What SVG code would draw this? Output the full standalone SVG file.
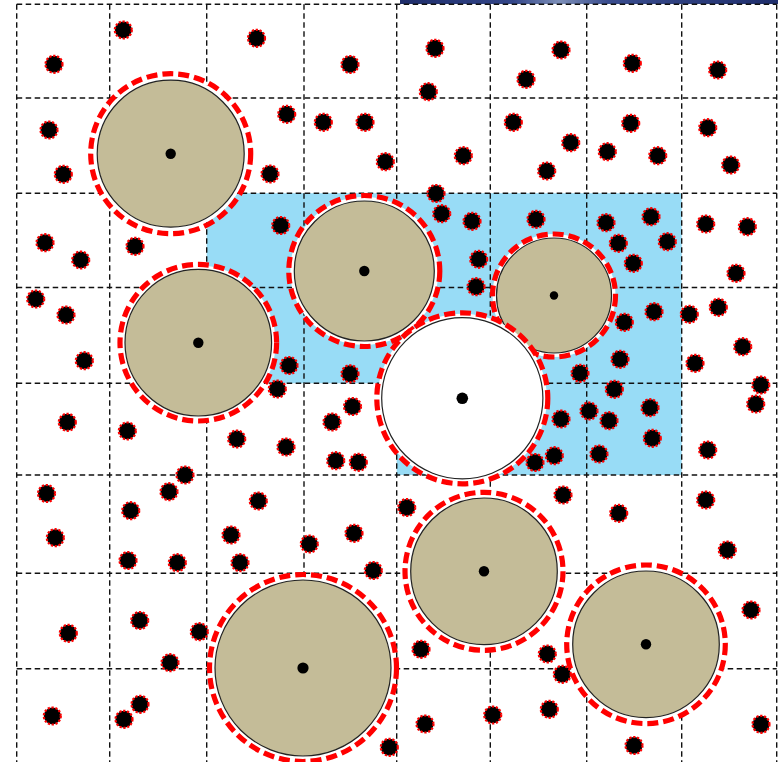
<svg xmlns="http://www.w3.org/2000/svg" width="778" height="762" viewBox="0 0 778 762">
<style>
.g{stroke:#111;stroke-width:1.4;stroke-dasharray:5.5 3.5;fill:none}
.halo{fill:none;stroke:#fff;stroke-width:4}
.tan{fill:#C4BC98;stroke:#222;stroke-width:1.2}
.wht{fill:#fff;stroke:#222;stroke-width:1.2}
.ring{fill:none;stroke:#f00;stroke-width:5.2;stroke-dasharray:11 5}
.ctr{fill:#000}
.dot{fill:#000;stroke:#f00;stroke-width:2.2;stroke-dasharray:2.2 1.7}
</style>
<defs>
<linearGradient id="bar" x1="0" y1="0" x2="1" y2="0">
<stop offset="0" stop-color="#1e2d6a"/>
<stop offset="0.3" stop-color="#34478a"/>
<stop offset="0.42" stop-color="#7d8fb8"/>
<stop offset="0.55" stop-color="#3a4d8e"/>
<stop offset="1" stop-color="#1f2e6c"/>
</linearGradient>
</defs>
<rect width="778" height="762" fill="#fff"/>
<rect x="400" y="0" width="378" height="4" fill="url(#bar)"/>
<path id="region" d="M206.7,193.3 H681.7 V475 H396.7 V383.3 H206.7 Z" fill="#98DCF6"/>
<g id="grid">
<line class="g" x1="16.7" y1="4.3" x2="776.7" y2="4.3"/>
<line class="g" x1="16.7" y1="98" x2="776.7" y2="98"/>
<line class="g" x1="16.7" y1="193.3" x2="776.7" y2="193.3"/>
<line class="g" x1="16.7" y1="287.5" x2="776.7" y2="287.5"/>
<line class="g" x1="16.7" y1="383.3" x2="776.7" y2="383.3"/>
<line class="g" x1="16.7" y1="475" x2="776.7" y2="475"/>
<line class="g" x1="16.7" y1="573.3" x2="776.7" y2="573.3"/>
<line class="g" x1="16.7" y1="668.7" x2="776.7" y2="668.7"/>
<line class="g" x1="16.7" y1="4.3" x2="16.7" y2="762"/>
<line class="g" x1="109.7" y1="4.3" x2="109.7" y2="762"/>
<line class="g" x1="206.7" y1="4.3" x2="206.7" y2="762"/>
<line class="g" x1="304" y1="4.3" x2="304" y2="762"/>
<line class="g" x1="396.7" y1="4.3" x2="396.7" y2="762"/>
<line class="g" x1="490.3" y1="4.3" x2="490.3" y2="762"/>
<line class="g" x1="586.7" y1="4.3" x2="586.7" y2="762"/>
<line class="g" x1="681.7" y1="4.3" x2="681.7" y2="762"/>
<line class="g" x1="776.7" y1="4.3" x2="776.7" y2="762"/>
</g>
<g id="connectors"></g>
<g id="c1"><circle class="halo" cx="170.7" cy="153.7" r="75.5"/><circle class="tan" cx="170.7" cy="153.7" r="73.5"/><circle class="ring" cx="170.7" cy="153.7" r="80"/><circle class="ctr" cx="170.7" cy="153.7" r="5.2"/></g>
<g id="c2"><circle class="halo" cx="364.3" cy="271" r="72"/><circle class="tan" cx="364.3" cy="271" r="70"/><circle class="ring" cx="364.3" cy="271" r="75.5"/><circle class="ctr" cx="364.3" cy="271" r="5.2"/></g>
<g id="c3"><circle class="halo" cx="554" cy="295.5" r="59.5"/><circle class="tan" cx="554" cy="295.5" r="57.5"/><circle class="ring" cx="554" cy="295.5" r="61.5"/><circle class="ctr" cx="554" cy="295.5" r="4.2"/></g>
<g id="c4"><circle class="halo" cx="198.3" cy="342.7" r="75.3"/><circle class="tan" cx="198.3" cy="342.7" r="73.3"/><circle class="ring" cx="198.3" cy="342.7" r="78.3"/><circle class="ctr" cx="198.3" cy="342.7" r="5.2"/></g>
<g id="c5"><circle class="halo" cx="484" cy="571.3" r="75.3"/><circle class="tan" cx="484" cy="571.3" r="73.3"/><circle class="ring" cx="484" cy="571.3" r="79"/><circle class="ctr" cx="484" cy="571.3" r="5.2"/></g>
<g id="c6"><circle class="halo" cx="303" cy="668" r="90"/><circle class="tan" cx="303" cy="668" r="88"/><circle class="ring" cx="303" cy="668" r="93.5"/><circle class="ctr" cx="303" cy="668" r="5.6"/></g>
<g id="c7"><circle class="halo" cx="646" cy="644.3" r="75.3"/><circle class="tan" cx="646" cy="644.3" r="73.3"/><circle class="ring" cx="646" cy="644.3" r="79.3"/><circle class="ctr" cx="646" cy="644.3" r="5.2"/></g>
<g id="c8"><circle class="halo" cx="462.3" cy="398.3" r="82.6"/><circle class="wht" cx="462.3" cy="398.3" r="80.6"/><circle class="ring" cx="462.3" cy="398.3" r="85.5"/><circle class="ctr" cx="462.3" cy="398.3" r="5.8"/></g>
<g id="dots">
<circle class="dot" cx="123.3" cy="30" r="8.5"/>
<circle class="dot" cx="54" cy="64.3" r="8.5"/>
<circle class="dot" cx="256.5" cy="38.3" r="8.5"/>
<circle class="dot" cx="350" cy="64.5" r="8.5"/>
<circle class="dot" cx="435" cy="48.3" r="8.5"/>
<circle class="dot" cx="428.3" cy="91.7" r="8.5"/>
<circle class="dot" cx="526" cy="79.3" r="8.5"/>
<circle class="dot" cx="561" cy="50" r="8.5"/>
<circle class="dot" cx="632.3" cy="63.3" r="8.5"/>
<circle class="dot" cx="717.7" cy="70" r="8.5"/>
<circle class="dot" cx="49" cy="130" r="8.5"/>
<circle class="dot" cx="63.3" cy="174.3" r="8.5"/>
<circle class="dot" cx="286.7" cy="114.3" r="8.5"/>
<circle class="dot" cx="323.3" cy="122.3" r="8.5"/>
<circle class="dot" cx="365" cy="122.3" r="8.5"/>
<circle class="dot" cx="270" cy="174" r="8.5"/>
<circle class="dot" cx="385.3" cy="161.7" r="8.5"/>
<circle class="dot" cx="463.3" cy="155.7" r="8.5"/>
<circle class="dot" cx="513.3" cy="122.3" r="8.5"/>
<circle class="dot" cx="570.7" cy="142.7" r="8.5"/>
<circle class="dot" cx="546.7" cy="171" r="8.5"/>
<circle class="dot" cx="607.3" cy="151.7" r="8.5"/>
<circle class="dot" cx="630.7" cy="123.3" r="8.5"/>
<circle class="dot" cx="657.7" cy="155.7" r="8.5"/>
<circle class="dot" cx="707.7" cy="127.7" r="8.5"/>
<circle class="dot" cx="730.7" cy="165" r="8.5"/>
<circle class="dot" cx="45" cy="242.7" r="8.5"/>
<circle class="dot" cx="80.7" cy="260" r="8.5"/>
<circle class="dot" cx="135" cy="246.3" r="8.5"/>
<circle class="dot" cx="280.7" cy="225.5" r="8.5"/>
<circle class="dot" cx="436" cy="193.5" r="8.5"/>
<circle class="dot" cx="441.7" cy="213.7" r="8.5"/>
<circle class="dot" cx="472" cy="221.3" r="8.5"/>
<circle class="dot" cx="478.7" cy="259.3" r="8.5"/>
<circle class="dot" cx="476" cy="286.7" r="8.5"/>
<circle class="dot" cx="536" cy="219.3" r="8.5"/>
<circle class="dot" cx="606" cy="222.7" r="8.5"/>
<circle class="dot" cx="618.3" cy="243.3" r="8.5"/>
<circle class="dot" cx="651" cy="216.7" r="8.5"/>
<circle class="dot" cx="667.3" cy="241.7" r="8.5"/>
<circle class="dot" cx="633.3" cy="263.3" r="8.5"/>
<circle class="dot" cx="705.7" cy="224" r="8.5"/>
<circle class="dot" cx="747.3" cy="226.7" r="8.5"/>
<circle class="dot" cx="736" cy="273.3" r="8.5"/>
<circle class="dot" cx="35.7" cy="299" r="8.5"/>
<circle class="dot" cx="66" cy="315" r="8.5"/>
<circle class="dot" cx="84.3" cy="360.7" r="8.5"/>
<circle class="dot" cx="289" cy="365.5" r="8.5"/>
<circle class="dot" cx="277.3" cy="389" r="8.5"/>
<circle class="dot" cx="350" cy="373.8" r="8.5"/>
<circle class="dot" cx="624.3" cy="322.3" r="8.5"/>
<circle class="dot" cx="654" cy="311.7" r="8.5"/>
<circle class="dot" cx="689.3" cy="314.3" r="8.5"/>
<circle class="dot" cx="718.3" cy="307.3" r="8.5"/>
<circle class="dot" cx="620" cy="359.3" r="8.5"/>
<circle class="dot" cx="580" cy="373.3" r="8.5"/>
<circle class="dot" cx="695" cy="363.3" r="8.5"/>
<circle class="dot" cx="742.7" cy="346.7" r="8.5"/>
<circle class="dot" cx="760.8" cy="385" r="8.5"/>
<circle class="dot" cx="67.3" cy="422.3" r="8.5"/>
<circle class="dot" cx="127.3" cy="431" r="8.5"/>
<circle class="dot" cx="236.7" cy="439" r="8.5"/>
<circle class="dot" cx="286" cy="447" r="8.5"/>
<circle class="dot" cx="332" cy="422" r="8.5"/>
<circle class="dot" cx="352.5" cy="406.5" r="8.5"/>
<circle class="dot" cx="335.7" cy="460.7" r="8.5"/>
<circle class="dot" cx="358.3" cy="462.3" r="8.5"/>
<circle class="dot" cx="614.3" cy="389.3" r="8.5"/>
<circle class="dot" cx="589" cy="411" r="8.5"/>
<circle class="dot" cx="609" cy="420.7" r="8.5"/>
<circle class="dot" cx="561" cy="419" r="8.5"/>
<circle class="dot" cx="650" cy="407.7" r="8.5"/>
<circle class="dot" cx="652.3" cy="438.3" r="8.5"/>
<circle class="dot" cx="599" cy="454" r="8.5"/>
<circle class="dot" cx="554.3" cy="455.7" r="8.5"/>
<circle class="dot" cx="535" cy="462.5" r="8.5"/>
<circle class="dot" cx="707.7" cy="450" r="8.5"/>
<circle class="dot" cx="755.7" cy="404" r="8.5"/>
<circle class="dot" cx="185" cy="475" r="8.5"/>
<circle class="dot" cx="46.5" cy="493.5" r="8.5"/>
<circle class="dot" cx="169" cy="491.7" r="8.5"/>
<circle class="dot" cx="130.7" cy="510.7" r="8.5"/>
<circle class="dot" cx="55.3" cy="537.7" r="8.5"/>
<circle class="dot" cx="258.3" cy="501" r="8.5"/>
<circle class="dot" cx="231" cy="535" r="8.5"/>
<circle class="dot" cx="309.3" cy="544" r="8.5"/>
<circle class="dot" cx="354" cy="533.3" r="8.5"/>
<circle class="dot" cx="406.7" cy="507.5" r="8.5"/>
<circle class="dot" cx="563" cy="495" r="8.5"/>
<circle class="dot" cx="618.7" cy="513.3" r="8.5"/>
<circle class="dot" cx="705.7" cy="500" r="8.5"/>
<circle class="dot" cx="727.3" cy="550" r="8.5"/>
<circle class="dot" cx="128" cy="560.5" r="8.5"/>
<circle class="dot" cx="177.3" cy="562.7" r="8.5"/>
<circle class="dot" cx="240" cy="562.7" r="8.5"/>
<circle class="dot" cx="373.3" cy="570.5" r="8.5"/>
<circle class="dot" cx="68.3" cy="633.3" r="8.5"/>
<circle class="dot" cx="139.7" cy="620.5" r="8.5"/>
<circle class="dot" cx="199.3" cy="631.7" r="8.5"/>
<circle class="dot" cx="170" cy="662.7" r="8.5"/>
<circle class="dot" cx="421" cy="649.3" r="8.5"/>
<circle class="dot" cx="547.3" cy="654" r="8.5"/>
<circle class="dot" cx="562.3" cy="674.3" r="8.5"/>
<circle class="dot" cx="751" cy="610" r="8.5"/>
<circle class="dot" cx="52.3" cy="716" r="8.5"/>
<circle class="dot" cx="124" cy="719.3" r="8.5"/>
<circle class="dot" cx="140" cy="704.3" r="8.5"/>
<circle class="dot" cx="389.3" cy="747.3" r="8.5"/>
<circle class="dot" cx="425" cy="724" r="8.5"/>
<circle class="dot" cx="492.7" cy="715" r="8.5"/>
<circle class="dot" cx="549.3" cy="709.3" r="8.5"/>
<circle class="dot" cx="634" cy="745.5" r="8.5"/>
<circle class="dot" cx="761" cy="724.3" r="8.5"/>
</g>
</svg>
